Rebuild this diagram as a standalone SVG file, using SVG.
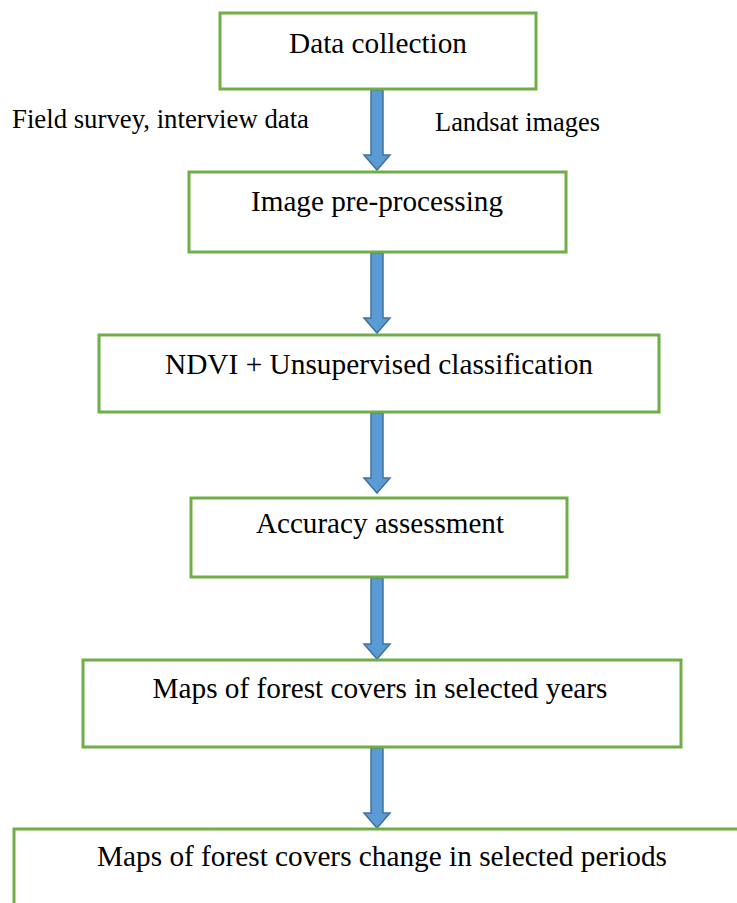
<svg xmlns="http://www.w3.org/2000/svg" width="737" height="903" viewBox="0 0 737 903">
<style>
.box{fill:#fff;stroke:#70AD47;stroke-width:3}
.t{font-family:'Liberation Serif',Tinos,'Times New Roman',Times,serif;font-size:29px;fill:#000;text-anchor:middle}
.l{font-family:'Liberation Serif',Tinos,'Times New Roman',Times,serif;font-size:27px;fill:#000}
.arr{fill:#5B9BD5;stroke:#41719C;stroke-width:1.5}
</style>
<rect width="737" height="903" fill="#fff"/>
<g id="connectors">
<path class="arr" d="M371,90 H383 V155 H390 L377,170 L364,155 H371 Z"/>
<path class="arr" d="M371,253 H383 V318 H390 L377,333 L364,318 H371 Z"/>
<path class="arr" d="M371,413 H383 V478 H390 L377,493 L364,478 H371 Z"/>
<path class="arr" d="M371,578 H383 V644 H390 L377,659 L364,644 H371 Z"/>
<path class="arr" d="M371,748 H383 V813 H390 L377,828 L364,813 H371 Z"/>
</g>
<g id="n1"><rect class="box" x="220" y="13" width="316" height="76"/><text class="t" x="378" y="53" textLength="178" lengthAdjust="spacingAndGlyphs">Data collection</text></g>
<g id="label-left"><text class="l" x="12" y="128" textLength="297" lengthAdjust="spacingAndGlyphs">Field survey, interview data</text></g>
<g id="label-right"><text class="l" x="435" y="131" textLength="165" lengthAdjust="spacingAndGlyphs">Landsat images</text></g>
<g id="n2"><rect class="box" x="189" y="172" width="377" height="80"/><text class="t" x="377" y="211" textLength="252" lengthAdjust="spacingAndGlyphs">Image pre-processing</text></g>
<g id="n3"><rect class="box" x="99" y="335" width="560" height="77"/><text class="t" x="379" y="374" textLength="428" lengthAdjust="spacingAndGlyphs">NDVI + Unsupervised classification</text></g>
<g id="n4"><rect class="box" x="191" y="498" width="376" height="79"/><text class="t" x="380" y="533" textLength="248" lengthAdjust="spacingAndGlyphs">Accuracy assessment</text></g>
<g id="n5"><rect class="box" x="83" y="660" width="598" height="87"/><text class="t" x="380" y="698" textLength="455" lengthAdjust="spacingAndGlyphs">Maps of forest covers in selected years</text></g>
<g id="n6"><rect class="box" x="14" y="829" width="740" height="90"/><text class="t" x="382" y="866" textLength="570" lengthAdjust="spacingAndGlyphs">Maps of forest covers change in selected periods</text></g>
</svg>
